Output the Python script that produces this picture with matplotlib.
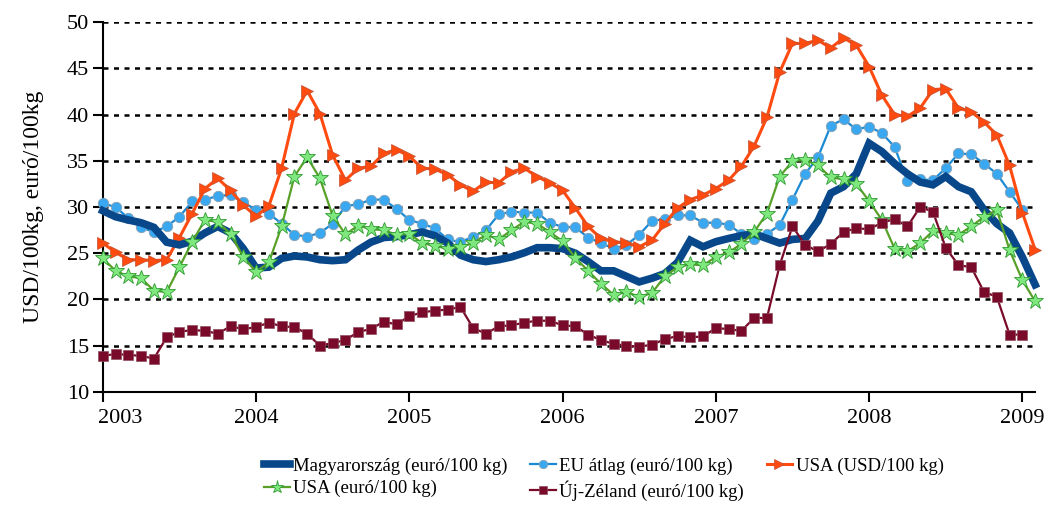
import numpy as np
import matplotlib.pyplot as plt
from matplotlib.transforms import ScaledTranslation

# monthly values, Jan 2003 onwards
hu = [29.6, 28.95, 28.6, 28.3, 27.8, 26.2, 25.9, 26.3, 27.2, 27.9, 27.2, 25.5,
      23.4, 23.5, 24.45, 24.7, 24.6, 24.3, 24.2, 24.3, 25.35, 26.2, 26.7, 26.8,
      27.0, 27.3, 26.9, 26.1, 24.8, 24.3, 24.1, 24.3, 24.6, 25.05, 25.6, 25.6,
      25.5, 25.0, 24.1, 23.1, 23.1, 22.5, 21.9, 22.3, 22.8, 24.0, 26.4, 25.7,
      26.25, 26.6, 26.9, 27.1, 26.6, 26.1, 26.5, 26.6, 28.5, 31.5, 32.2, 33.6,
      36.9, 36.0, 34.7, 33.6, 32.7, 32.4, 33.3, 32.2, 31.65, 29.7, 28.2, 27.2,
      24.6, 21.6]
eu = [30.4, 30.0, 28.8, 27.8, 27.3, 27.9, 28.95, 30.6, 30.8, 31.2, 31.3, 30.5,
      29.7, 29.3, 28.2, 27.0, 26.8, 27.2, 28.2, 30.1, 30.3, 30.8, 30.8, 29.8,
      28.6, 28.2, 27.7, 26.5, 26.2, 26.8, 27.5, 29.2, 29.5, 29.4, 29.4, 28.3,
      27.85, 27.8, 26.7, 26.1, 25.5, 25.9, 27.0, 28.5, 28.7, 29.1, 29.1, 28.3,
      28.3, 28.1, 27.1, 26.5, 27.1, 28.05, 30.8, 33.6, 35.4, 38.8, 39.5, 38.4,
      38.7, 38.0, 36.5, 32.8, 33.0, 32.9, 34.2, 35.8, 35.7, 34.7, 33.6, 31.65,
      29.7]
usa_usd = [26.1, 25.1, 24.3, 24.3, 24.2, 24.3, 26.7, 29.3, 32.0, 33.1, 31.8, 30.2,
           29.0, 30.1, 34.2, 40.1, 42.6, 40.1, 35.6, 32.9, 34.2, 34.4, 35.8, 36.2,
           35.5, 34.2, 34.1, 33.5, 32.4, 31.7, 32.7, 32.6, 33.8, 34.2, 33.3, 32.6,
           31.8, 29.9, 27.9, 26.6, 26.25, 26.1, 25.7, 26.4, 28.2, 29.9, 30.8, 31.3,
           32.0, 32.9, 34.4, 36.6, 39.7, 44.6, 47.7, 47.7, 48.05, 47.2, 48.3, 47.5,
           45.2, 42.1, 40.0, 39.8, 40.7, 42.7, 42.8, 40.7, 40.3, 39.2, 37.8, 34.5,
           29.4, 25.4]
usa_eur = [24.45, 23.1, 22.5, 22.3, 20.95, 20.8, 23.5, 26.25, 28.6, 28.4, 27.1, 24.6,
           23.0, 24.0, 27.9, 33.3, 35.4, 33.1, 29.05, 27.05, 28.0, 27.6, 27.5, 27.0,
           27.1, 26.1, 25.8, 25.5, 25.7, 26.1, 27.0, 26.5, 27.5, 28.4, 28.2, 27.3,
           26.3, 24.5, 23.1, 21.7, 20.5, 20.8, 20.3, 20.7, 22.5, 23.5, 23.8, 23.7,
           24.6, 25.1, 26.0, 27.3, 29.3, 33.3, 34.95, 35.1, 34.5, 33.2, 33.0, 32.5,
           30.65, 28.6, 25.5, 25.2, 26.1, 27.4, 27.15, 27.0, 27.9, 28.95, 29.7, 25.35,
           22.1, 19.8]
nz = [13.9, 14.1, 14.0, 13.9, 13.6, 15.9, 16.5, 16.7, 16.6, 16.3, 17.1, 16.8,
      17.0, 17.5, 17.1, 17.0, 16.3, 15.0, 15.3, 15.6, 16.5, 16.8, 17.6, 17.3,
      18.2, 18.6, 18.8, 18.9, 19.2, 16.9, 16.3, 17.1, 17.2, 17.5, 17.7, 17.7,
      17.2, 17.1, 16.2, 15.6, 15.2, 15.0, 14.9, 15.1, 15.7, 16.05, 15.9, 16.0,
      16.9, 16.8, 16.6, 18.0, 18.0, 23.7, 27.9, 25.9, 25.2, 26.0, 27.3, 27.7,
      27.6, 28.3, 28.7, 27.9, 30.0, 29.5, 25.6, 23.7, 23.5, 20.8, 20.3, 16.2,
      16.2]

labels = ['Magyarország (euró/100 kg)', 'EU átlag (euró/100 kg)',
          'USA (USD/100 kg)', 'USA (euró/100 kg)', 'Új-Zéland (euró/100 kg)']
years = [2003, 2004, 2005, 2006, 2007, 2008, 2009]


def months(v):
    return 2003 + np.arange(len(v)) / 12.0


plt.rcParams['font.family'] = ['Liberation Serif', 'DejaVu Serif']

fig = plt.figure(figsize=(10.49, 5.15), dpi=100, facecolor='w')
ax = fig.add_axes([0.098, 0.239, 0.889, 0.718])

for y in range(15, 55, 5):
    ax.axhline(y, color='k', lw=1.8, ls=(0, (2, 2.2)), zorder=1)

l_eu, = ax.plot(months(eu), eu, color='#1a8ad4', lw=1.6, marker='o', ms=7.5,
                mfc='#3aa8f0', mec='#8aa0b0', mew=0.6, zorder=3, clip_on=False)
l_usd, = ax.plot(months(usa_usd), usa_usd, color='#ff4a10', lw=2.2, marker='>', ms=9,
                 mfc='#ff4a10', mec='#c05030', mew=0.5, zorder=3, clip_on=False)
l_hu, = ax.plot(months(hu), hu, color='#08488a', lw=5.5, solid_joinstyle='miter',
                zorder=4, clip_on=False)
l_eur, = ax.plot(months(usa_eur), usa_eur, color='#58a028', lw=1.6, marker='*', ms=12,
                 mfc='#7ee87e', mec='#2f9a2f', mew=0.6, zorder=5, clip_on=False)
l_nz, = ax.plot(months(nz), nz, color='#7a0a2a', lw=1.6, marker='s', ms=6.5,
                mfc='#7a0a2a', mec='#905060', mew=0.5, zorder=5, clip_on=False)

ax.set_xlim(2003, 2009.085)
ax.set_ylim(10, 50)
ax.set_xticks(years)
ax.set_yticks(range(10, 55, 5))
ax.tick_params(axis='both', labelsize=16, width=1.5, length=7, color='k')
ax.tick_params(axis='y', direction='out', pad=3)
ax.tick_params(axis='x', direction='out', pad=5)
for s in ['top', 'right']:
    ax.spines[s].set_visible(False)
for s in ['left', 'bottom']:
    ax.spines[s].set_linewidth(1.5)
ax.set_ylabel('USD/100kg, euró/100kg', fontsize=17, labelpad=16)

# first year label sits right of its tick, as in the original
first = ax.get_xticklabels()[0]
first.set_transform(first.get_transform() + ScaledTranslation(17 / 100, 0, fig.dpi_scale_trans))

fig.legend([l_hu, l_eur, l_eu, l_nz, l_usd],
           [labels[0], labels[3], labels[1], labels[4], labels[2]],
           ncol=3, loc='center left', bbox_to_anchor=(0.243, 0.07), frameon=False,
           borderpad=0, fontsize=13.5, handlelength=1.35, handletextpad=0.2,
           columnspacing=1.2, labelspacing=0.3, markerscale=0.8)

fig.savefig('out.png', dpi=100)
